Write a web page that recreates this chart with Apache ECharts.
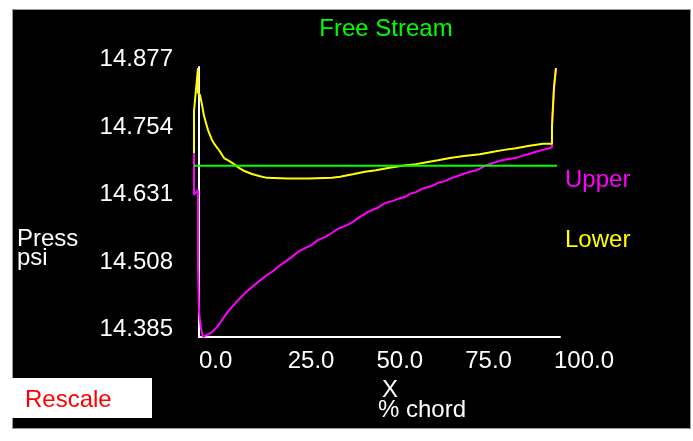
<!DOCTYPE html>
<html>
<head>
<meta charset="utf-8">
<script src="https://cdn.jsdelivr.net/npm/echarts@6/dist/echarts.min.js"></script>
<style>
  html, body { margin: 0; padding: 0; background: #ffffff; }
  #panel { position: absolute; left: 12px; top: 9px; width: 677px; height: 418px; background: #000; border: 1px solid #9a9a9a; }
  #chart { position: absolute; left: 0; top: 0; width: 693px; height: 441px; }
</style>
</head>
<body>
<div id="panel"></div>
<div id="chart"></div>
<script>
// ---- data (x in % chord, pressure in psi) ----
const upperX = [-1.41, -1.41, -0.28, -0.28, 0, 0, 0.56, 1.13, 2.25, 3.66, 5.07, 6.48, 7.89, 9.30, 10.99, 12.96, 14.93, 16.62, 19.15, 20.85, 22.25, 24.23, 26.20, 27.89, 29.86, 31.83, 33.52, 35.49, 37.46, 39.15, 41.69, 43.38, 45.35, 47.61, 50.14, 52.39, 54.65, 56.62, 58.03, 59.44, 61.13, 62.82, 65.63, 67.32, 69.30, 71.27, 72.68, 74.37, 76.34, 78.31, 80.56, 82.82, 84.79, 86.76, 89.01, 90.99, 92.68, 94.65, 96.90, 98.59, 99.44, 99.44, 100.0, 100.56];
const upperP = [14.720, 14.644, 14.653, 14.516, 14.516, 14.431, 14.400, 14.385, 14.389, 14.394, 14.403, 14.416, 14.429, 14.440, 14.452, 14.465, 14.476, 14.485, 14.498, 14.505, 14.513, 14.522, 14.531, 14.540, 14.547, 14.553, 14.562, 14.567, 14.575, 14.582, 14.589, 14.595, 14.604, 14.613, 14.620, 14.629, 14.633, 14.638, 14.640, 14.646, 14.649, 14.655, 14.660, 14.666, 14.669, 14.675, 14.678, 14.682, 14.686, 14.689, 14.697, 14.702, 14.706, 14.709, 14.711, 14.715, 14.718, 14.722, 14.726, 14.729, 14.731, 14.769, 14.839, 14.875];
const lowerX = [-1.41, -1.41, -0.28, -0.28, 0.28, 0.85, 1.41, 1.97, 2.54, 3.10, 3.66, 4.51, 5.35, 6.20, 7.04, 8.45, 9.86, 11.27, 12.96, 14.93, 17.18, 19.15, 25.0, 31.0, 37.46, 39.72, 43.66, 46.76, 49.86, 53.24, 57.18, 61.13, 64.51, 67.32, 70.70, 74.65, 79.15, 82.54, 85.92, 89.30, 92.68, 96.90, 99.44, 99.44, 100.0, 100.56];
const lowerP = [14.720, 14.797, 14.875, 14.830, 14.826, 14.808, 14.788, 14.775, 14.762, 14.753, 14.744, 14.735, 14.728, 14.720, 14.711, 14.706, 14.700, 14.693, 14.687, 14.682, 14.678, 14.675, 14.674, 14.674, 14.675, 14.677, 14.682, 14.686, 14.689, 14.693, 14.697, 14.700, 14.704, 14.707, 14.711, 14.715, 14.718, 14.722, 14.726, 14.729, 14.733, 14.737, 14.737, 14.769, 14.839, 14.875];
const freeStreamX = [-1.41, 100.85];
const freeStreamP = [14.697, 14.697];
const xTicks = [0, 25, 50, 75, 100];
const yTicks = [14.385, 14.508, 14.631, 14.754, 14.877];

const FONT = '"Liberation Sans", Arial, sans-serif';
const zip = (xs, ys) => xs.map((x, i) => [x, ys[i]]);

// visible axes: x from 0 to X_MAX over AXIS_W px starting at AXIS_LEFT
const AXIS_LEFT = 199, AXIS_W = 361, X_MAX = 101.7, X_PAD = 1.5;
const PX_PER_UNIT = AXIS_W / X_MAX;

const chart = echarts.init(document.getElementById('chart'), null, { renderer: 'canvas' });
chart.setOption({
  animation: false,
  backgroundColor: 'transparent',
  grid: [
    { left: AXIS_LEFT, top: 67, width: AXIS_W, height: 270 },
    // same scale, extended slightly left so the leading-edge points (x < 0) are drawn
    { left: AXIS_LEFT - X_PAD * PX_PER_UNIT, top: 67, width: AXIS_W + X_PAD * PX_PER_UNIT, height: 270 }
  ],
  xAxis: [{
    gridIndex: 0, type: 'value', min: 0, max: X_MAX,
    axisLine: { show: true, onZero: false, lineStyle: { color: '#ffffff', width: 2 } },
    axisTick: { show: false },
    splitLine: { show: false },
    axisLabel: {
      customValues: xTicks,
      formatter: v => v.toFixed(1),
      color: '#ffffff', fontFamily: FONT, fontSize: 24,
      align: 'left', margin: 12, lineHeight: 24
    }
  }, {
    gridIndex: 1, type: 'value', min: -X_PAD, max: X_MAX, show: false
  }],
  yAxis: [{
    gridIndex: 0, type: 'value', min: yTicks[0], max: yTicks[yTicks.length - 1],
    axisLine: { show: true, onZero: false, lineStyle: { color: '#ffffff', width: 2 } },
    axisTick: { show: false },
    splitLine: { show: false },
    axisLabel: {
      customValues: yTicks,
      formatter: v => v.toFixed(3),
      color: '#ffffff', fontFamily: FONT, fontSize: 24,
      margin: 26, verticalAlign: 'bottom', lineHeight: 15
    }
  }, {
    gridIndex: 1, type: 'value', min: yTicks[0], max: yTicks[yTicks.length - 1], show: false
  }],
  series: [
    { name: 'Upper', type: 'line', xAxisIndex: 1, yAxisIndex: 1, data: zip(upperX, upperP), symbol: 'none', clip: false,
      lineStyle: { color: '#ff00ff', width: 2 } },
    { name: 'Lower', type: 'line', xAxisIndex: 1, yAxisIndex: 1, data: zip(lowerX, lowerP), symbol: 'none', clip: false,
      lineStyle: { color: '#ffff00', width: 2 } },
    { name: 'Free Stream', type: 'line', xAxisIndex: 1, yAxisIndex: 1, data: zip(freeStreamX, freeStreamP), symbol: 'none', clip: false,
      lineStyle: { color: '#00ff00', width: 2 } }
  ],
  graphic: [
    { type: 'text', x: 386, y: 29, style: { text: 'Free Stream', fill: '#00ff00', font: '24px ' + FONT, textAlign: 'center', textVerticalAlign: 'middle' } },
    { type: 'text', x: 565, y: 180, style: { text: 'Upper', fill: '#ff00ff', font: '24px ' + FONT, textAlign: 'left', textVerticalAlign: 'middle' } },
    { type: 'text', x: 565, y: 240, style: { text: 'Lower', fill: '#ffff00', font: '24px ' + FONT, textAlign: 'left', textVerticalAlign: 'middle' } },
    { type: 'text', x: 17, y: 239, style: { text: 'Press', fill: '#ffffff', font: '24px ' + FONT, textAlign: 'left', textVerticalAlign: 'middle' } },
    { type: 'text', x: 17, y: 258, style: { text: 'psi', fill: '#ffffff', font: '24px ' + FONT, textAlign: 'left', textVerticalAlign: 'middle' } },
    { type: 'text', x: 390, y: 390, style: { text: 'X', fill: '#ffffff', font: '24px ' + FONT, textAlign: 'center', textVerticalAlign: 'middle' } },
    { type: 'text', x: 378, y: 410, style: { text: '% chord', fill: '#ffffff', font: '24px ' + FONT, textAlign: 'left', textVerticalAlign: 'middle' } },
    { type: 'rect', shape: { x: 12, y: 378, width: 140, height: 40 }, style: { fill: '#ffffff' } },
    { type: 'text', x: 25, y: 400, style: { text: 'Rescale', fill: '#ff0000', font: '24px ' + FONT, textAlign: 'left', textVerticalAlign: 'middle' } }
  ]
});
</script>
</body>
</html>
